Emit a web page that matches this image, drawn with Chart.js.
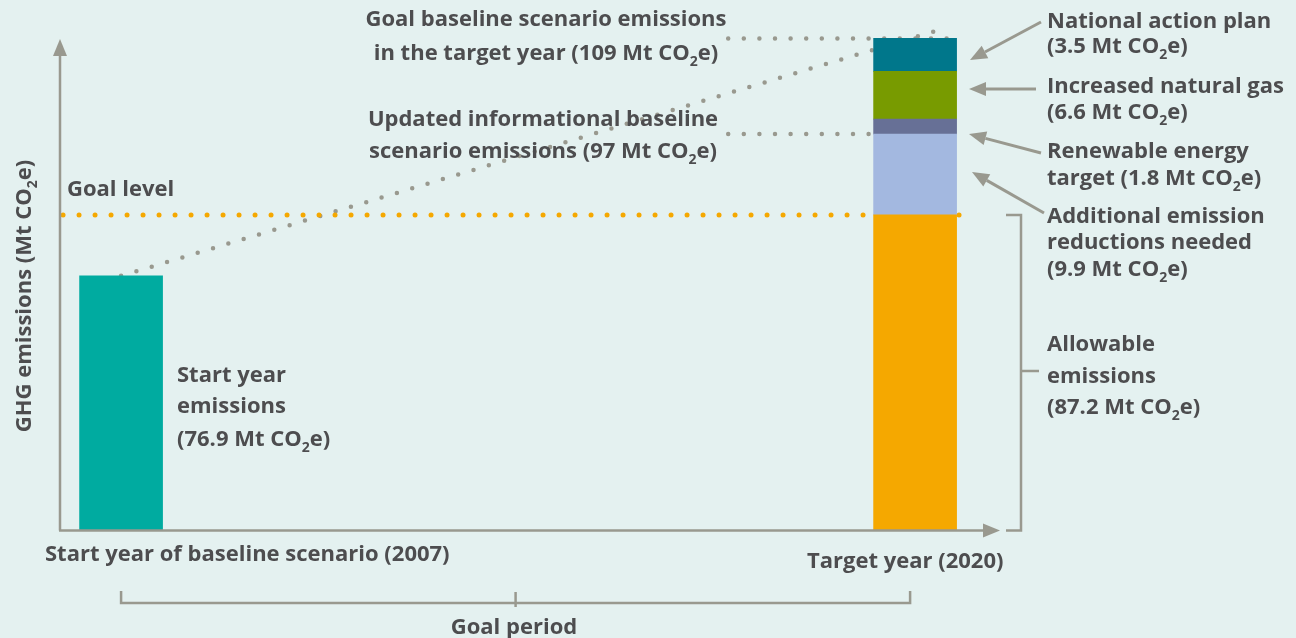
<!DOCTYPE html>
<html>
<head>
<meta charset="utf-8">
<title>Goal baseline and emission reductions</title>
<script src="https://cdn.jsdelivr.net/npm/chart.js@4.4.1/dist/chart.umd.min.js"></script>
<style>
html, body { margin: 0; padding: 0; background: #e4f1f0; }
#wrap { width: 1296px; height: 638px; position: relative; }
</style>
</head>
<body>
<div id="wrap"><canvas id="goalChart"></canvas></div>
<script>
// years on the x axis
const startYear = 2007;
const targetYear = 2020;

// bar heights as drawn (the figure is schematic, not to scale)
const startHeight = 56.3;
const segmentHeights = [69.8, 17.9, 3.3, 10.6, 7.3];
const segmentColors = ["#f5a800", "#a3b8e0", "#677096", "#789b00", "#00778b"];

// values written on the figure (Mt CO2e)
const startValue = 76.9;
const segmentValues = [87.2, 9.9, 1.8, 6.6, 3.5];
const goalBaselineValue = 109;
const updatedBaselineValue = 97;

// dotted baseline trend, from start bar top to above the target bar
const trendYears = [2007, 2020.5];
const trendHeights = [56.3, 111.2];

const ink = "#4d4d4f";
const grey = "#99998f";
const FONT = "'Open Sans'";

// stacked tops of the target bar
const tops = [];
segmentHeights.reduce((s, h) => { tops.push(s + h); return s + h; }, 0);

const datasets = [];
datasets.push({
  type: "bar", label: "Start year emissions", stack: "bars",
  data: [{ x: startYear, y: startHeight }],
  backgroundColor: "#00aba0", barThickness: 83, order: 0
});
segmentHeights.forEach((h, i) => {
  datasets.push({
    type: "bar", label: "segment " + i, stack: "bars",
    data: [{ x: targetYear, y: h }],
    backgroundColor: segmentColors[i], barThickness: 83, order: 0
  });
});

function dotted(label, pts, color, width, gap) {
  return {
    type: "line", label: label, stack: label, data: pts,
    borderColor: color, borderWidth: width, borderDash: [0, gap],
    borderCapStyle: "round", pointRadius: 0, fill: false, order: 1
  };
}
datasets.push(dotted("goal", [{ x: 2006.05, y: tops[0] }, { x: 2020.77, y: tops[0] }], "#f5a800", 5, 16));
datasets.push(dotted("updated", [{ x: 2016.94, y: tops[1] }, { x: 2020.77, y: tops[1] }], grey, 4.5, 15.6));
datasets.push(dotted("baseline", [{ x: 2016.94, y: tops[4] }, { x: 2020.77, y: tops[4] }], grey, 4.5, 15.6));
datasets.push(dotted("trend", trendYears.map((x, i) => ({ x: x, y: trendHeights[i] })), grey, 4.5, 16));

function richText(ctx, text, x, y, align) {
  const big = "bold 22px " + FONT, small = "bold 14px " + FONT;
  const parts = text.split("₂");
  let w = 0;
  parts.forEach((p, i) => {
    ctx.font = big; w += ctx.measureText(p).width;
    if (i < parts.length - 1) { ctx.font = small; w += ctx.measureText("2").width; }
  });
  let cx = align === "center" ? x - w / 2 : align === "right" ? x - w : x;
  ctx.textAlign = "left";
  ctx.textBaseline = "middle";
  parts.forEach((p, i) => {
    ctx.font = big; ctx.fillText(p, cx, y); cx += ctx.measureText(p).width;
    if (i < parts.length - 1) {
      ctx.font = small; ctx.fillText("2", cx, y + 8); cx += ctx.measureText("2").width;
    }
  });
}

function arrow(ctx, x1, y1, x2, y2) {
  const a = Math.atan2(y2 - y1, x2 - x1);
  const len = 17, half = 7;
  const bx = x2 - len * Math.cos(a), by = y2 - len * Math.sin(a);
  ctx.beginPath(); ctx.moveTo(x1, y1); ctx.lineTo(bx, by); ctx.stroke();
  ctx.beginPath();
  ctx.moveTo(x2, y2);
  ctx.lineTo(bx + half * Math.sin(a), by - half * Math.cos(a));
  ctx.lineTo(bx - half * Math.sin(a), by + half * Math.cos(a));
  ctx.closePath(); ctx.fill();
}

function line(ctx, pts) {
  ctx.beginPath();
  ctx.moveTo(pts[0][0], pts[0][1]);
  for (let i = 1; i < pts.length; i++) ctx.lineTo(pts[i][0], pts[i][1]);
  ctx.stroke();
}

const annotations = {
  id: "annotations",
  afterDraw(chart) {
    const ctx = chart.ctx;
    const xs = chart.scales.x, ys = chart.scales.y;
    const x0 = xs.left, y0 = ys.bottom + 0.5;
    ctx.save();
    ctx.strokeStyle = grey; ctx.fillStyle = grey; ctx.lineWidth = 2.5;

    // axes with arrow heads
    arrow(ctx, x0, y0, x0, 39);
    arrow(ctx, x0 - 1, y0, xs.right, y0);

    // bracket for allowable emissions
    const yGoal = ys.getPixelForValue(tops[0]);
    const bx = xs.right + 21;
    line(ctx, [[bx - 15, yGoal], [bx, yGoal], [bx, y0], [bx - 15, y0]]);
    line(ctx, [[bx, 371], [bx + 18, 371]]);

    // goal period bracket
    const gx1 = xs.getPixelForValue(startYear), gx2 = xs.getPixelForValue(targetYear) - 5;
    line(ctx, [[gx1, 591], [gx1, 603], [gx2, 603], [gx2, 591]]);
    line(ctx, [[(gx1 + gx2) / 2, 592], [(gx1 + gx2) / 2, 607]]);

    // arrows to the bar segments
    ctx.lineWidth = 3;
    arrow(ctx, 1041, 22, 970, 60);
    arrow(ctx, 1036, 89, 969, 89);
    arrow(ctx, 1041, 153, 969, 134);
    arrow(ctx, 1044, 213, 972, 172);

    // texts
    ctx.fillStyle = ink;
    richText(ctx, "Goal baseline scenario emissions", 546, 20, "center");
    richText(ctx, "in the target year (" + goalBaselineValue + " Mt CO₂e)", 546, 54, "center");
    richText(ctx, "Updated informational baseline", 543, 120, "center");
    richText(ctx, "scenario emissions (" + updatedBaselineValue + " Mt CO₂e)", 543, 152, "center");
    richText(ctx, "Goal level", 67, 190, "left");

    richText(ctx, "Start year", 177, 376, "left");
    richText(ctx, "emissions", 177, 407, "left");
    richText(ctx, "(" + startValue + " Mt CO₂e)", 177, 440, "left");

    const rx = 1047;
    richText(ctx, "National action plan", rx, 22, "left");
    richText(ctx, "(" + segmentValues[4] + " Mt CO₂e)", rx, 47, "left");
    richText(ctx, "Increased natural gas", rx, 87, "left");
    richText(ctx, "(" + segmentValues[3] + " Mt CO₂e)", rx, 113, "left");
    richText(ctx, "Renewable energy", rx, 152, "left");
    richText(ctx, "target (" + segmentValues[2] + " Mt CO₂e)", rx, 179, "left");
    richText(ctx, "Additional emission", rx, 217, "left");
    richText(ctx, "reductions needed", rx, 243, "left");
    richText(ctx, "(" + segmentValues[1] + " Mt CO₂e)", rx, 270, "left");
    richText(ctx, "Allowable", rx, 345, "left");
    richText(ctx, "emissions", rx, 377, "left");
    richText(ctx, "(" + segmentValues[0] + " Mt CO₂e)", rx, 408, "left");

    richText(ctx, "Start year of baseline scenario (" + startYear + ")", 45, 555, "left");
    richText(ctx, "Target year (" + targetYear + ")", 807, 562, "left");
    richText(ctx, "Goal period", 514, 628, "center");

    // y axis title
    ctx.translate(25, 296);
    ctx.rotate(-Math.PI / 2);
    richText(ctx, "GHG emissions (Mt CO₂e)", 0, 0, "center");
    ctx.restore();
  }
};

new Chart(document.getElementById("goalChart"), {
  data: { datasets: datasets },
  options: {
    responsive: true,
    maintainAspectRatio: false,
    animation: false,
    layout: { padding: { left: 60, right: 296, top: 28, bottom: 108 } },
    plugins: { legend: { display: false }, tooltip: { enabled: false } },
    scales: {
      x: { type: "linear", min: 2006, max: 2021.39, offset: false, stacked: true, display: false },
      y: { min: 0, max: 111.2, stacked: true, display: false }
    }
  },
  plugins: [annotations]
});
</script>
</body>
</html>
